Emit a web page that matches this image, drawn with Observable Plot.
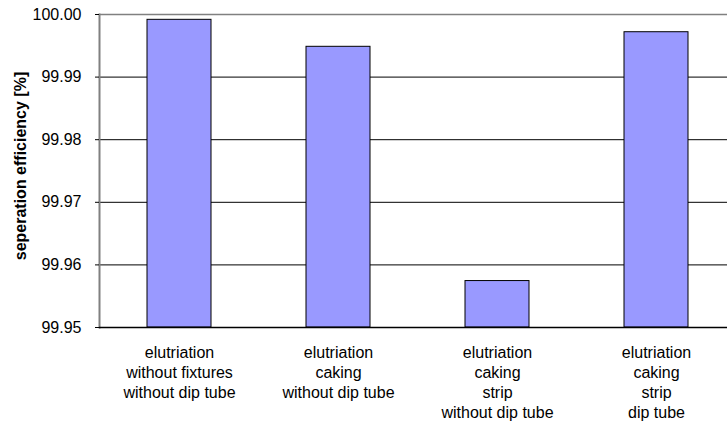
<!DOCTYPE html>
<html>
<head>
<meta charset="utf-8">
<script src="https://cdn.jsdelivr.net/npm/d3@7"></script>
<script src="https://cdn.jsdelivr.net/npm/@observablehq/plot@0.6"></script>
<style>
  html, body { margin: 0; padding: 0; background: #fff; }
  #chart svg { display: block; }
</style>
</head>
<body>
<div id="chart"></div>
<script>
const categories = [
  "elutriation\nwithout fixtures\nwithout dip tube",
  "elutriation\ncaking\nwithout dip tube",
  "elutriation\ncaking\nstrip\nwithout dip tube",
  "elutriation\ncaking\nstrip\ndip tube"
];
const values = [99.99915, 99.99484, 99.95742, 99.99717];
const yTicks = [99.95, 99.96, 99.97, 99.98, 99.99, 100.00];
const yLabel = "seperation efficiency [%]";
const baseline = 99.95;

const data = categories.map((c, i) => ({category: c, value: values[i]}));
const innerTicks = yTicks.filter(t => t > baseline && t < 100);

const chart = Plot.plot({
  width: 727,
  height: 423,
  marginTop: 14,
  marginBottom: 96,
  marginLeft: 99,
  marginRight: 0,
  style: {fontFamily: "'Liberation Sans', Arial, sans-serif", fontSize: "16px", color: "#000", background: "#fff"},
  x: {domain: categories, range: [99, 736], paddingInner: 0.6, paddingOuter: 0.3},
  y: {domain: [99.95, 100]},
  marks: [
    Plot.ruleY(innerTicks, {stroke: "#000", strokeWidth: 1}),
    Plot.ruleY([100], {stroke: "#808080", strokeWidth: 1.5}),
    Plot.frame({anchor: "left", stroke: "#808080", strokeWidth: 2}),
    Plot.barY(data, {x: "category", y1: baseline, y2: "value", fill: "#9999ff", stroke: "#000", strokeWidth: 1}),
    Plot.ruleY([baseline], {stroke: "#000", strokeWidth: 1.5}),
    Plot.axisY({ticks: yTicks, tickFormat: d => d.toFixed(2), tickSize: 4, tickPadding: 14, label: null, fontSize: 16, stroke: "#000"}),
    Plot.axisX({tickSize: 0, tickPadding: 16, label: null, fontSize: 16, lineHeight: 1.25}),
    Plot.text([yLabel], {frameAnchor: "left", textAnchor: "middle", dx: -79, dy: -5, rotate: -90, fontWeight: "bold", fontSize: 16, fill: "#000"})
  ]
});
document.getElementById("chart").appendChild(chart);
</script>
</body>
</html>
